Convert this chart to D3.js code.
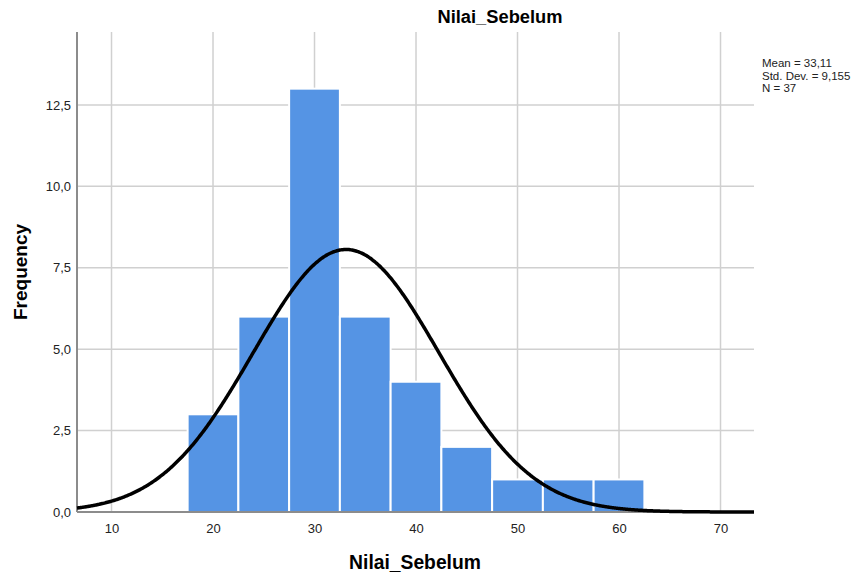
<!DOCTYPE html>
<html><head><meta charset="utf-8">
<script src="https://cdn.jsdelivr.net/npm/d3@7"></script>
<style>body{margin:0;background:#fff}svg{font-family:"Liberation Sans",Arial,sans-serif}</style>
</head><body><svg id="c" width="865" height="573"></svg>
<script>
const binStarts = [17.5, 22.5, 27.5, 32.5, 37.5, 42.5, 47.5, 52.5, 57.5];
const binWidth = 5;
const frequencies = [3, 6, 13, 6, 4, 2, 1, 1, 1];
const xTicks = [10, 20, 30, 40, 50, 60, 70];
const yTicks = [0, 2.5, 5, 7.5, 10, 12.5];
const mean = 33.11, sd = 9.155, n = 37;
const statLines = ["Mean = 33,11", "Std. Dev. = 9,155", "N = 37"];

const svg = d3.select("#c");
const L = 77, R = 754, T = 32, B = 512;
const x = d3.scaleLinear().domain([6.6, 73.3]).range([L, R]);
const y = d3.scaleLinear().domain([0, 14.74]).range([B, T]);
const fmt = v => d3.format(".1f")(v).replace(".", ",");

// grid
svg.append("g").selectAll("line").data(xTicks).join("line")
  .attr("x1", d => x(d)).attr("x2", d => x(d)).attr("y1", T).attr("y2", B)
  .attr("stroke", "#d0d0d0").attr("stroke-width", 1.5);
svg.append("g").selectAll("line").data(yTicks.filter(d => d > 0)).join("line")
  .attr("x1", L).attr("x2", R).attr("y1", d => y(d)).attr("y2", d => y(d))
  .attr("stroke", "#d0d0d0").attr("stroke-width", 1.5);

// bars
svg.append("g").selectAll("rect").data(frequencies).join("rect")
  .attr("x", (d, i) => x(binStarts[i]))
  .attr("width", (d, i) => x(binStarts[i] + binWidth) - x(binStarts[i]))
  .attr("y", d => y(d)).attr("height", d => B - y(d))
  .attr("fill", "#5594e4").attr("stroke", "#fff").attr("stroke-width", 2);

// axes
const xa = svg.append("g").attr("transform", `translate(0,${B})`)
  .call(d3.axisBottom(x).tickValues(xTicks).tickSize(0).tickPadding(12));
const ya = svg.append("g").attr("transform", `translate(${L},0)`)
  .call(d3.axisLeft(y).tickValues(yTicks).tickFormat(fmt).tickSize(0).tickPadding(6));
[xa, ya].forEach(a => {
  a.select(".domain").attr("stroke", "#8c8c8c").attr("stroke-width", 2);
  a.selectAll("text").attr("font-size", 13).attr("fill", "#222").attr("font-family", "Liberation Sans, Arial, sans-serif");
});
xa.select(".domain").attr("d", `M${L},0H${R}`);
ya.select(".domain").attr("d", `M0,${T}V${B}`);

// normal curve from stated mean and sd
const scale = n * binWidth / (sd * Math.sqrt(2 * Math.PI));
const xs = d3.range(6.6, 73.31, 0.1);
const line = d3.line().x(d => x(d)).y(d => y(scale * Math.exp(-0.5 * ((d - mean) / sd) ** 2))).curve(d3.curveBasis);
svg.append("path").attr("d", line(xs)).attr("fill", "none").attr("stroke", "#000").attr("stroke-width", 3.5);

// titles
svg.append("text").attr("x", 500).attr("y", 23).attr("text-anchor", "middle")
  .attr("font-size", 18.3).attr("font-weight", "bold").text("Nilai_Sebelum");
svg.append("text").attr("x", 415).attr("y", 569).attr("text-anchor", "middle")
  .attr("font-size", 19.3).attr("font-weight", "bold").text("Nilai_Sebelum");
svg.append("text").attr("transform", "translate(27,272) rotate(-90)").attr("text-anchor", "middle")
  .attr("font-size", 19).attr("font-weight", "bold").text("Frequency");

svg.append("g").selectAll("text").data(statLines).join("text")
  .attr("x", 762).attr("y", (d, i) => 67 + i * 12.5).attr("font-size", 11.5).attr("fill", "#222").text(d => d);
</script></body></html>
